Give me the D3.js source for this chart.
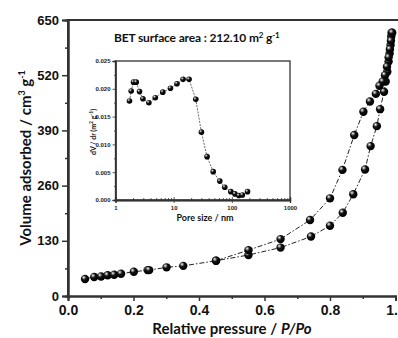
<!DOCTYPE html>
<html>
<head>
<meta charset="utf-8">
<script src="https://cdn.jsdelivr.net/npm/d3@7"></script>
<style>
  body { margin: 0; background: #fff; }
  svg { display: block; font-family: Lato, "Open Sans", sans-serif; font-weight: bold; }
</style>
</head>
<body>
<div id="canvas"></div>
<script>
// Isotherm, adsorption branch
var adsP = [0.052, 0.080, 0.101, 0.121, 0.141, 0.162, 0.201, 0.243, 0.248, 0.301, 0.352, 0.452, 0.551, 0.649, 0.742, 0.800, 0.839, 0.871, 0.907, 0.924, 0.943, 0.953, 0.965, 0.970, 0.975, 0.979, 0.982, 0.985, 0.987, 0.988];
var adsV = [40, 44.7, 46, 48.7, 50, 52.5, 57, 61, 61, 67.5, 71, 83, 96.5, 114, 140, 165.6, 196, 239.5, 298, 353, 400, 440, 481, 505, 528, 552, 571, 591, 611, 620];
// Isotherm, desorption branch
var desP = [0.990, 0.986, 0.983, 0.979, 0.974, 0.968, 0.961, 0.951, 0.940, 0.922, 0.902, 0.874, 0.838, 0.800, 0.739, 0.649, 0.551, 0.452];
var desV = [620, 601, 581, 562, 540, 520, 505, 495, 476, 458, 434, 379, 297, 230, 179, 134, 108, 83];
// Pore size distribution (inset)
var poreSize = [1.74, 1.86, 2.04, 2.27, 2.59, 2.96, 3.75, 4.83, 6.5, 8.8, 11.4, 14.5, 18.4, 24, 30, 37.5, 47.8, 62, 75.6, 96, 113, 132, 152, 186];
var poreDV = [0.0178, 0.0196, 0.0212, 0.0212, 0.0195, 0.0182, 0.0175, 0.0184, 0.0194, 0.0201, 0.0209, 0.0217, 0.0217, 0.0181, 0.0122, 0.0078, 0.0051, 0.0034, 0.0023, 0.0015, 0.0011, 0.0008, 0.0009, 0.0015];

var yTicks = [0, 130, 260, 390, 520, 650],
	xTicks = [0, 0.2, 0.4, 0.6, 0.8, 1.0],
	insetYTicks = [0, 0.005, 0.010, 0.015, 0.020, 0.025],
	insetXTicks = [1, 10, 100, 1000];

var W = 398, H = 338,
	axisColor = '#333';

var svg = d3.select('#canvas').append('svg').attr('width', W).attr('height', H);

// sphere look for markers
var grad = svg.append('defs').append('radialGradient')
	.attr('id', 'ball').attr('cx', '38%').attr('cy', '36%').attr('r', '62%').attr('fx', '34%').attr('fy', '30%');
grad.append('stop').attr('offset', '0%').attr('stop-color', '#fff');
grad.append('stop').attr('offset', '18%').attr('stop-color', '#999');
grad.append('stop').attr('offset', '45%').attr('stop-color', '#111');
grad.append('stop').attr('offset', '100%').attr('stop-color', '#000');

// Main plot
var x = d3.scaleLinear().domain([0, 1]).range([68, 395.5]),
	y = d3.scaleLinear().domain([0, 650]).range([296, 20]);

var ads = adsP.map(function(p, i) { return [p, adsV[i]]; }),
	des = desP.map(function(p, i) { return [p, desV[i]]; });

var line = d3.line().x(function(d) { return x(d[0]); }).y(function(d) { return y(d[1]); });

[des, ads].forEach(function(s) {
	svg.append('path').attr('d', line(s))
		.attr('fill', 'none').attr('stroke', '#222').attr('stroke-width', 1)
		.attr('stroke-dasharray', '5,2,1.5,2');
});
[ads, des].forEach(function(s) {
	svg.append('g').selectAll('circle').data(s).enter().append('circle')
		.attr('cx', function(d) { return x(d[0]); })
		.attr('cy', function(d) { return y(d[1]); })
		.attr('r', 4.2)
		.attr('fill', 'url(#ball)');
});

// frame
svg.append('path').attr('d', 'M68,296V20H400')
	.attr('fill', 'none').attr('stroke', axisColor).attr('stroke-width', 2);

var yAxis = d3.axisLeft(y).tickValues(yTicks).tickSize(6).tickPadding(3);
var gy = svg.append('g').attr('transform', 'translate(68,0)').call(yAxis);
gy.append('g').call(d3.axisLeft(y).tickValues(d3.range(65, 650, 130)).tickSize(3).tickFormat(''));

var xAxis = d3.axisBottom(x).tickValues(xTicks).tickSize(5).tickPadding(4).tickFormat(d3.format('.1f'));
var gx = svg.append('g').attr('transform', 'translate(0,296)').call(xAxis);
gx.append('g').call(d3.axisBottom(x).tickValues([0.1, 0.3, 0.5, 0.7, 0.9]).tickSize(3).tickFormat(''));

[gx, gy].forEach(function(g) {
	g.selectAll('.domain').attr('stroke', axisColor).attr('stroke-width', 2);
	g.selectAll('line').attr('stroke', axisColor).attr('stroke-width', 1.5);
	g.selectAll('text').attr('fill', '#111').style('font-weight', 'bold');
});
gy.selectAll('text').style('font-size', '13px');
gx.selectAll('text').style('font-size', '14px');

// Titles
svg.append('text').attr('x', 232).attr('y', 334).attr('text-anchor', 'middle')
	.style('font-size', '15px').attr('fill', '#111')
	.html('Relative pressure / <tspan font-style="italic">P/Po</tspan>');

svg.append('text').attr('transform', 'translate(31,158) rotate(-90)').attr('text-anchor', 'middle')
	.style('font-size', '15px').attr('fill', '#111')
	.html('Volume adsorbed / cm<tspan dy="-6" font-size="9px">3</tspan><tspan dy="6"> g</tspan><tspan dy="-6" font-size="9px">-1</tspan>');

svg.append('text').attr('x', 114).attr('y', 42)
	.style('font-size', '12px').style('letter-spacing', '-0.15px').attr('fill', '#111')
	.html('BET surface area : 212.10 m<tspan dy="-4" font-size="8px">2</tspan><tspan dy="4"> g</tspan><tspan dy="-4" font-size="8px">-1</tspan>');

// Inset
var ix = d3.scaleLog().domain([1, 1000]).range([115.5, 290]),
	iy = d3.scaleLinear().domain([0, 0.025]).range([200, 61]);

var pore = poreSize.map(function(s, i) { return [s, poreDV[i]]; });

svg.append('rect').attr('x', 115.5).attr('y', 61).attr('width', 174.5).attr('height', 139)
	.attr('fill', 'none').attr('stroke', axisColor).attr('stroke-width', 1.3);

svg.append('path')
	.attr('d', d3.line().x(function(d) { return ix(d[0]); }).y(function(d) { return iy(d[1]); })(pore))
	.attr('fill', 'none').attr('stroke', '#444').attr('stroke-width', 0.8)
	.attr('stroke-dasharray', '2,1.2');

svg.append('g').selectAll('circle').data(pore).enter().append('circle')
	.attr('cx', function(d) { return ix(d[0]); })
	.attr('cy', function(d) { return iy(d[1]); })
	.attr('r', 2.8)
	.attr('fill', 'url(#ball)');

var giy = svg.append('g').attr('transform', 'translate(115.5,0)')
	.call(d3.axisLeft(iy).tickValues(insetYTicks).tickSize(3).tickPadding(2).tickFormat(d3.format('.3f')));
giy.append('g').call(d3.axisLeft(iy).tickValues(d3.range(0.0025, 0.025, 0.005)).tickSize(1.5).tickFormat(''));

var minorLog = [];
[1, 10, 100].forEach(function(b) { for (var k = 2; k <= 9; k++) minorLog.push(b * k); });
var gix = svg.append('g').attr('transform', 'translate(0,200)')
	.call(d3.axisBottom(ix).tickValues(insetXTicks).tickSize(3).tickPadding(3).tickFormat(d3.format('d')));
gix.append('g').call(d3.axisTop(ix).tickValues(minorLog).tickSize(2).tickFormat(''));
gix.append('g').call(d3.axisTop(ix).tickValues(insetXTicks).tickSize(3).tickFormat(''));

[gix, giy].forEach(function(g) {
	g.selectAll('.domain').attr('stroke', axisColor).attr('stroke-width', 1.3);
	g.selectAll('line').attr('stroke', axisColor).attr('stroke-width', 0.8);
	g.selectAll('text').attr('fill', '#222').style('font-size', '6px').style('font-weight', 'bold');
});

svg.append('text').attr('x', 205).attr('y', 221).attr('text-anchor', 'middle')
	.style('font-size', '9px').attr('fill', '#111').text('Pore size / nm');

svg.append('text').attr('transform', 'translate(96,132) rotate(-90)').attr('text-anchor', 'middle')
	.style('font-size', '7px').attr('fill', '#111')
	.html('dV / dr (m<tspan dy="-3" font-size="5px">2</tspan><tspan dy="3"> g</tspan><tspan dy="-3" font-size="5px">-1</tspan><tspan dy="3">)</tspan>');
</script>
</body>
</html>
